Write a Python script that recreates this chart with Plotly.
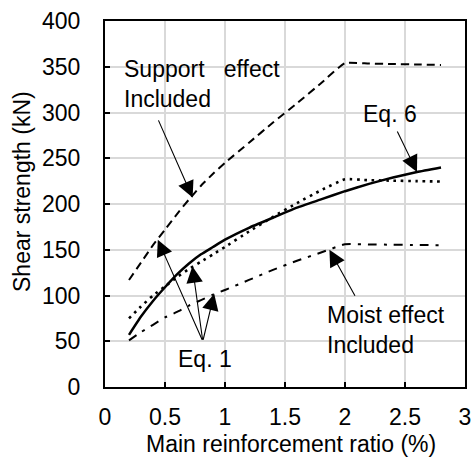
import plotly.graph_objects as go

# ---- data ----
ratio = [0.2, 0.3, 0.4, 0.5, 0.6, 0.7, 0.8, 0.9, 1.0, 1.2, 1.4, 1.6, 1.8, 2.0, 2.2, 2.4, 2.6, 2.8]
support_effect = [117, 136, 155, 172, 189, 205, 220, 233, 245, 267, 289, 310, 332, 354, 353.5, 353, 352.5, 352]
eq6 = [57, 77, 94, 109, 123, 135, 145, 153, 161, 174, 185, 196, 205, 214, 222, 229, 235, 240]
eq1 = [75, 88, 100, 110, 120, 129, 137, 145, 153, 170, 186, 201, 215, 227, 226, 225.5, 225, 224.5]
moist_effect = [51, 60, 68, 76, 82, 89, 95, 101, 106, 117, 128, 138, 147, 156, 155.8, 155.5, 155.2, 155]

x_ticks = [0, 0.5, 1, 1.5, 2, 2.5, 3]
x_tick_labels = ["0", "0.5", "1", "1.5", "2", "2.5", "3"]
y_ticks = [0, 50, 100, 150, 200, 250, 300, 350, 400]
y_tick_labels = ["0", "50", "100", "150", "200", "250", "300", "350", "400"]

FONT = "Arial, Liberation Sans, sans-serif"
FS = 23
W, H = 473, 457
ML, MR, MT, MB = 105, 8, 21, 70

fig = go.Figure()
fig.add_trace(go.Scatter(x=ratio, y=support_effect, mode="lines", name="Support effect included",
                         line=dict(color="black", width=2, dash="8px,5px", shape="spline", smoothing=0.4)))
fig.add_trace(go.Scatter(x=ratio, y=eq6, mode="lines", name="Eq. 6",
                         line=dict(color="black", width=2.5, shape="spline", smoothing=0.4)))
fig.add_trace(go.Scatter(x=ratio, y=eq1, mode="lines", name="Eq. 1",
                         line=dict(color="black", width=2.6, dash="2.6px,4.7px", shape="spline", smoothing=0.4)))
fig.add_trace(go.Scatter(x=ratio, y=moist_effect, mode="lines", name="Moist effect included",
                         line=dict(color="black", width=2, dash="9px,7px,3px,7px", shape="spline", smoothing=0.4)))

axis_common = dict(
    showline=True, linecolor="black", linewidth=2, mirror=True,
    showgrid=True, gridcolor="#d9d9d9", gridwidth=1.5,
    ticks="inside", ticklen=5, tickwidth=2, tickcolor="black",
    zeroline=False,
    tickfont=dict(family=FONT, size=FS, color="black"),
)

fig.update_xaxes(range=[0, 3], tickvals=x_ticks, ticktext=x_tick_labels,
                 ticklabelstandoff=8, **axis_common)
fig.update_yaxes(range=[0, 400], tickvals=y_ticks, ticktext=y_tick_labels,
                 ticklabelstandoff=18, **axis_common)

# arrows (tail -> head in data coordinates)
arrows = [
    ((0.44, 293), (0.73, 207)),   # Support effect
    ((2.43, 281), (2.60, 235)),   # Eq. 6
    ((0.815, 50), (0.44, 161)),   # Eq. 1 -> dashed
    ((0.815, 50), (0.728, 132)),  # Eq. 1 -> dotted
    ((0.815, 50), (0.91, 102)),   # Eq. 1 -> dash-dot
    ((2.09, 98), (1.87, 150)),    # Moist effect
]
for (tx, ty), (hx, hy) in arrows:
    fig.add_annotation(x=hx, y=hy, ax=tx, ay=ty, xref="x", yref="y", axref="x", ayref="y",
                       text="", showarrow=True, arrowhead=2, arrowsize=3.0, arrowwidth=1.1,
                       arrowcolor="black")

labels = [
    ("Support\u00a0\u00a0 effect<br>Included", 0.15, 363),
    ("Eq. 6", 2.14, 314),
    ("Eq. 1", 0.60, 46),
    ("Moist effect<br>Included", 1.84, 94),
]
for txt, lx, ly in labels:
    fig.add_annotation(x=lx, y=ly, xref="x", yref="y", text=txt, showarrow=False,
                       xanchor="left", yanchor="top", align="left", borderpad=0,
                       font=dict(family=FONT, size=FS, color="black"))

pw = W - ML - MR
ph = H - MT - MB


def px_to_paper(px, py):
    return (px - ML) / pw, (H - MB - py) / ph


xt_x, xt_y = px_to_paper(291, 444)
fig.add_annotation(x=xt_x, y=xt_y, xref="paper", yref="paper", text="Main reinforcement ratio (%)",
                   showarrow=False, xanchor="center", yanchor="middle",
                   font=dict(family=FONT, size=FS, color="black"))
yt_x, yt_y = px_to_paper(22, 192)
fig.add_annotation(x=yt_x, y=yt_y, xref="paper", yref="paper", text="Shear strength (kN)",
                   textangle=-90, showarrow=False, xanchor="center", yanchor="middle",
                   font=dict(family=FONT, size=FS, color="black"))

fig.update_layout(
    width=W, height=H,
    margin=dict(l=ML, r=MR, t=MT, b=MB, autoexpand=False),
    paper_bgcolor="white", plot_bgcolor="white",
    showlegend=False,
    font=dict(family=FONT, size=FS, color="black"),
)

fig.write_html("out.html")
